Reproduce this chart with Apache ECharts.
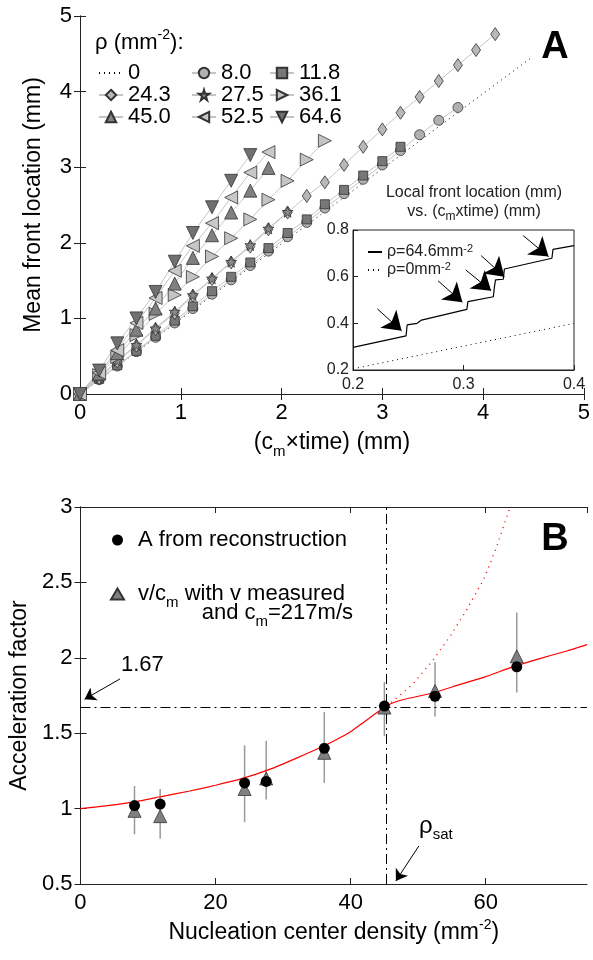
<!DOCTYPE html>
<html>
<head>
<meta charset="utf-8">
<script src="https://cdn.jsdelivr.net/npm/echarts@6/dist/echarts.min.js"></script>
<style>
  html, body { margin: 0; padding: 0; background: #fff; }
  #chart { width: 593px; height: 960px; }
</style>
</head>
<body>
<div id="chart"></div>
<script>
// ---- Panel A: mean front location vs (c_m x time) ----
const timeA = [0, 0.19, 0.37, 0.56, 0.75, 0.94, 1.12, 1.31, 1.50, 1.69, 1.87, 2.06, 2.25, 2.43, 2.62, 2.81, 3.00, 3.18, 3.37, 3.56, 3.75, 3.93, 4.12];
const rho0Line = [[0, 0], [4.49, 4.46]];
const front8_0 = [0, 0.19, 0.37, 0.56, 0.75, 0.94, 1.13, 1.32, 1.51, 1.70, 1.89, 2.08, 2.27, 2.46, 2.65, 2.84, 3.03, 3.22, 3.43, 3.62, 3.79];
const front11_8 = [0, 0.20, 0.38, 0.57, 0.77, 0.97, 1.16, 1.36, 1.55, 1.74, 1.93, 2.13, 2.31, 2.51, 2.70, 2.89, 3.08, 3.27];
const front24_3 = [0, 0.21, 0.43, 0.64, 0.86, 1.07, 1.30, 1.52, 1.74, 1.95, 2.18, 2.40, 2.62, 2.80, 3.03, 3.27, 3.50, 3.72, 3.93, 4.14, 4.35, 4.55, 4.76];
const front27_5 = [0, 0.22, 0.44, 0.65, 0.87, 1.09, 1.31, 1.53, 1.75, 1.97, 2.19, 2.41];
const front36_1 = [0, 0.25, 0.49, 0.78, 1.06, 1.31, 1.55, 1.82, 2.06, 2.31, 2.57, 2.82, 3.10, 3.35];
const front45_0 = [0, 0.27, 0.54, 0.85, 1.13, 1.46, 1.80, 2.10, 2.40, 2.69, 2.99];
const front52_5 = [0, 0.28, 0.58, 0.94, 1.27, 1.63, 1.96, 2.26, 2.60, 2.93, 3.20];
const front64_6 = [0, 0.31, 0.67, 1.00, 1.35, 1.75, 2.13, 2.47, 2.82, 3.16];

// ---- Inset: local front location ----
const insetRho64 = [[0.2, 0.297], [0.248, 0.346], [0.249, 0.393], [0.258, 0.40], [0.262, 0.414], [0.303, 0.46],
  [0.304, 0.493], [0.327, 0.514], [0.328, 0.557], [0.329, 0.586], [0.336, 0.589], [0.337, 0.633],
  [0.380, 0.679], [0.381, 0.717], [0.4, 0.733]];
const insetRho0 = [[0.2, 0.205], [0.4, 0.40]];
const insetArrows = [
  [[0.222, 0.462], [0.244, 0.368]],
  [[0.277, 0.582], [0.299, 0.490]],
  [[0.302, 0.629], [0.325, 0.540]],
  [[0.316, 0.690], [0.337, 0.600]],
  [[0.354, 0.776], [0.377, 0.686]]
];

// ---- Panel B: acceleration factor ----
const rhoB = [8.0, 11.8, 24.3, 27.5, 36.1, 45.0, 52.5, 64.6];
const accRecon = [1.02, 1.03, 1.17, 1.18, 1.40, 1.68, 1.745, 1.94];
const accMeasured = [0.985, 0.95, 1.13, 1.20, 1.37, 1.67, 1.78, 2.01];
const errLow = [0.83, 0.80, 0.91, 1.06, 1.17, 1.48, 1.61, 1.77];
const errHigh = [1.15, 1.13, 1.42, 1.45, 1.64, 1.84, 1.97, 2.30];
const modelCurve = [[0, 1.0], [4, 1.02], [8, 1.045], [12, 1.08], [16, 1.115], [20, 1.155], [24, 1.20], [28, 1.26],
  [32, 1.335], [36, 1.415], [38, 1.46], [40, 1.51], [42, 1.575], [44, 1.64], [45.3, 1.68], [46.5, 1.705],
  [48, 1.725], [52, 1.765], [56, 1.82], [60, 1.875], [64, 1.94], [68, 1.995], [72, 2.045], [75, 2.087]];
const unsatCurve = [[45.3, 1.68], [47, 1.74], [49.3, 1.83], [52.3, 1.99], [54.7, 2.14], [57.2, 2.32],
  [59.7, 2.52], [61.5, 2.72], [63, 2.92], [63.6, 3.0]];
const accSat = 1.67;
const rhoSat = 45.3;

const FONT = '"Liberation Sans", Arial, sans-serif';
const SUB = { fontSize: 15, fontFamily: FONT, color: '#000', verticalAlign: 'bottom', lineHeight: 16 };
const SUP = { fontSize: 14, fontFamily: FONT, color: '#000', verticalAlign: 'top', lineHeight: 14 };

const chart = echarts.init(document.getElementById('chart'));

function axis(grid, pos, min, max, interval, showLabels, fontSize) {
  return {
    type: 'value', gridIndex: grid, position: pos, min: min, max: max, interval: interval,
    axisLine: { show: true, lineStyle: { color: '#222', width: 1 } },
    axisTick: { show: true, inside: true, length: 6, lineStyle: { color: '#222' } },
    splitLine: { show: false },
    axisLabel: { show: showLabels, fontSize: fontSize || 22, color: '#000', fontFamily: FONT, margin: 8 }
  };
}

const star = 'path://M50,0 L61,35 L98,35 L68,57 L79,91 L50,70 L21,91 L32,57 L2,35 L39,35 Z';

function seriesA(name, ys, symbol, size, fill, rotate) {
  return {
    name: name, type: 'line', xAxisIndex: 0, yAxisIndex: 0,
    data: ys.map((y, k) => [timeA[k], y]),
    symbol: symbol, symbolSize: size, symbolRotate: rotate || 0, showAllSymbol: true,
    lineStyle: { color: '#c4c4c4', width: 1 },
    itemStyle: { color: fill, borderColor: '#333', borderWidth: 0.8 }
  };
}

const xA = axis(0, 'bottom', 0, 5, 1, true);
Object.assign(xA, {
  name: '(c{sub|m}×time) (mm)', nameLocation: 'middle', nameGap: 33,
  nameTextStyle: { fontSize: 23, fontFamily: FONT, color: '#000', lineHeight: 32, rich: { sub: SUB } }
});
const yA = axis(0, 'left', 0, 5, 1, true);
Object.assign(yA, {
  name: 'Mean front location (mm)', nameLocation: 'middle', nameGap: 35,
  nameTextStyle: { fontSize: 23, fontFamily: FONT, color: '#000' }
});
const xIn = axis(1, 'bottom', 0.2, 0.4, 0.1, true, 16);
xIn.axisLabel.margin = 7;
xIn.axisLabel.color = '#222';
xIn.axisTick.length = 5;
const yIn = axis(1, 'left', 0.2, 0.8, 0.2, true, 16);
yIn.axisLabel.margin = 4;
yIn.axisLabel.color = '#222';
yIn.axisTick.length = 5;
const xB = axis(2, 'bottom', 0, 75, 20, true);
xB.axisLabel.showMaxLabel = false;
Object.assign(xB, {
  name: 'Nucleation center density (mm{sup|-2})', nameLocation: 'middle', nameGap: 34,
  nameTextStyle: { fontSize: 23, fontFamily: FONT, color: '#000', lineHeight: 30, rich: { sup: SUP } }
});
const yB = axis(2, 'left', 0.5, 3, 0.5, true);
Object.assign(yB, {
  name: 'Acceleration factor', nameLocation: 'middle', nameGap: 36,
  nameTextStyle: { fontSize: 23, fontFamily: FONT, color: '#000' }
});

const legendText = { fontSize: 22, fontFamily: FONT, color: '#000', lineHeight: 21 };
const noSym = { opacity: 0 };

chart.setOption({
  animation: false,
  backgroundColor: '#fff',
  grid: [
    { left: 80, top: 16, width: 504, height: 378 },
    { left: 353, top: 230, width: 221, height: 140, show: true, backgroundColor: '#fff', borderColor: '#222', borderWidth: 1 },
    { left: 80, top: 507, width: 507, height: 377 }
  ],
  xAxis: [xA, axis(0, 'top', 0, 5, 1, false), xIn, xB, axis(2, 'top', 0, 75, 20, false)],
  yAxis: [yA, axis(0, 'right', 0, 5, 1, false), yIn, yB, axis(2, 'right', 0.5, 3, 0.5, false)],
  legend: [
    { data: [{ name: '0', itemStyle: noSym }, '24.3', '45.0'], left: 93, top: 57, orient: 'vertical', itemWidth: 24, itemHeight: 13, itemGap: 0, textStyle: legendText, selectedMode: false },
    { data: ['8.0', '27.5', '52.5'], left: 186, top: 57, orient: 'vertical', itemWidth: 24, itemHeight: 13, itemGap: 0, textStyle: legendText, selectedMode: false },
    { data: ['11.8', '36.1', '64.6'], left: 264, top: 57, orient: 'vertical', itemWidth: 24, itemHeight: 13, itemGap: 0, textStyle: legendText, selectedMode: false },
    {
      data: [{ name: 'ρ=64.6', itemStyle: noSym }, { name: 'ρ=0', itemStyle: noSym }], left: 362, top: 238, orient: 'vertical',
      itemWidth: 14, itemHeight: 8, itemGap: 0, selectedMode: false,
      formatter: n => n + 'mm{sup|-2}',
      textStyle: { fontSize: 16, fontFamily: FONT, color: '#222', lineHeight: 18, rich: { sup: { fontSize: 11, fontFamily: FONT, color: '#222', verticalAlign: 'top', lineHeight: 10 } } }
    },
    {
      data: ['A from reconstruction', 'v/cm with v measured'], left: 105, top: 519, orient: 'vertical', itemWidth: 13, itemHeight: 11, itemGap: 22, selectedMode: false,
      formatter: n => n.indexOf('v/c') === 0 ? 'v/c{sub|m} with v measured' : n,
      textStyle: { fontSize: 22, fontFamily: FONT, color: '#000', lineHeight: 32, padding: [0, 0, 0, 9], rich: { sub: SUB } }
    }
  ],
  series: [
    {
      name: '0', type: 'line', xAxisIndex: 0, yAxisIndex: 0, data: rho0Line, symbol: 'none',
      lineStyle: { color: '#000', width: 1, type: [1, 4] }, itemStyle: { color: '#000' }
    },
    seriesA('8.0', front8_0, 'circle', 10, '#b0b0b0'),
    seriesA('11.8', front11_8, 'rect', 9, '#777777'),
    seriesA('24.3', front24_3, 'diamond', [9, 13], '#b8b8b8'),
    seriesA('27.5', front27_5, star, 11, '#8a8a8a'),
    seriesA('36.1', front36_1, 'triangle', 13, '#c4c4c4', -90),
    seriesA('45.0', front45_0, 'triangle', 13, '#808080'),
    seriesA('52.5', front52_5, 'triangle', 13, '#c8c8c8', 90),
    seriesA('64.6', front64_6, 'triangle', 13, '#707070', 180),
    // inset
    {
      name: 'ρ=64.6', type: 'line', xAxisIndex: 2, yAxisIndex: 2, data: insetRho64, symbol: 'none',
      lineStyle: { color: '#000', width: 1.2 }, itemStyle: { color: '#000' },
      markLine: {
        silent: true, symbol: ['none', 'arrow'], symbolSize: 18, label: { show: false },
        lineStyle: { color: '#000', width: 1, type: 'solid' },
        data: insetArrows.map(a => [{ coord: a[0] }, { coord: a[1] }])
      }
    },
    {
      name: 'ρ=0', type: 'line', xAxisIndex: 2, yAxisIndex: 2, data: insetRho0, symbol: 'none',
      lineStyle: { color: '#000', width: 1, type: [1, 4] }, itemStyle: { color: '#000' }
    },
    // panel B
    {
      name: 'errorbars', type: 'custom', xAxisIndex: 3, yAxisIndex: 3, z: 1,
      data: rhoB.map((r, i) => [r, errLow[i], errHigh[i]]),
      renderItem: (params, api) => {
        const lo = api.coord([api.value(0), api.value(1)]);
        const hi = api.coord([api.value(0), api.value(2)]);
        return { type: 'line', shape: { x1: lo[0], y1: lo[1], x2: hi[0], y2: hi[1] }, style: { stroke: '#9a9a9a', lineWidth: 1.5 } };
      }
    },
    {
      name: 'model', type: 'line', xAxisIndex: 3, yAxisIndex: 3, data: modelCurve, symbol: 'none', z: 2, smooth: 0.2,
      lineStyle: { color: '#ff0000', width: 1.2 },
      markLine: {
        silent: true, symbol: 'none', label: { show: false },
        lineStyle: { color: '#000', width: 1, type: [10, 4, 2, 4] },
        data: [{ yAxis: accSat }, { xAxis: rhoSat }]
      }
    },
    {
      name: 'unsat', type: 'line', xAxisIndex: 3, yAxisIndex: 3, data: unsatCurve, symbol: 'none', z: 2,
      lineStyle: { color: '#ff0000', width: 1.4, type: [1, 5] }
    },
    {
      name: 'v/cm with v measured', type: 'scatter', xAxisIndex: 3, yAxisIndex: 3, z: 3,
      data: rhoB.map((r, i) => [r, accMeasured[i]]), symbol: 'triangle', symbolSize: 13,
      itemStyle: { color: '#808080', borderColor: '#333', borderWidth: 0.8, opacity: 1 },
      markLine: {
        silent: true, symbol: ['none', 'arrow'], symbolSize: 11, label: { show: false },
        lineStyle: { color: '#000', width: 1, type: 'solid' },
        data: [
          [{ coord: [5.85, 1.86] }, { coord: [0.6, 1.725] }],
          [{ coord: [50.1, 0.752] }, { coord: [46.7, 0.52] }]
        ]
      }
    },
    {
      name: 'A from reconstruction', type: 'scatter', xAxisIndex: 3, yAxisIndex: 3, z: 4,
      data: rhoB.map((r, i) => [r, accRecon[i]]), symbol: 'circle', symbolSize: 11,
      itemStyle: { color: '#000', opacity: 1 }
    }
  ],
  graphic: [
    { type: 'text', x: 95, y: 43, style: { text: 'ρ (mm{sup|-2}):', fontSize: 22, fontFamily: FONT, fill: '#000', verticalAlign: 'middle', lineHeight: 30, rich: { sup: SUP } } },
    { type: 'text', x: 555, y: 48, style: { text: 'A', fontSize: 38, fontWeight: 'bold', fontFamily: FONT, fill: '#000', align: 'center', verticalAlign: 'middle' } },
    { type: 'text', x: 474, y: 193, style: { text: 'Local front location (mm)', fontSize: 16, fontFamily: FONT, fill: '#222', align: 'center', verticalAlign: 'middle' } },
    { type: 'text', x: 474, y: 212, style: { text: 'vs. (c{sub|m}xtime) (mm)', fontSize: 16, fontFamily: FONT, fill: '#222', align: 'center', verticalAlign: 'middle', lineHeight: 22, rich: { sub: { fontSize: 12, fontFamily: FONT, color: '#222', verticalAlign: 'bottom', lineHeight: 12 } } } },
    { type: 'text', x: 555, y: 540, style: { text: 'B', fontSize: 38, fontWeight: 'bold', fontFamily: FONT, fill: '#000', align: 'center', verticalAlign: 'middle' } },
    { type: 'text', x: 353, y: 613, style: { text: 'and c{sub|m}=217m/s', fontSize: 22, fontFamily: FONT, fill: '#000', align: 'right', verticalAlign: 'middle', lineHeight: 32, rich: { sub: SUB } } },
    { type: 'text', x: 121, y: 665, style: { text: '1.67', fontSize: 22, fontFamily: FONT, fill: '#000', verticalAlign: 'middle' } },
    { type: 'text', x: 419, y: 826, style: { text: 'ρ{sub|sat}', fontSize: 24, fontFamily: FONT, fill: '#000', verticalAlign: 'middle', lineHeight: 32, rich: { sub: SUB } } }
  ]
});
</script>
</body>
</html>
